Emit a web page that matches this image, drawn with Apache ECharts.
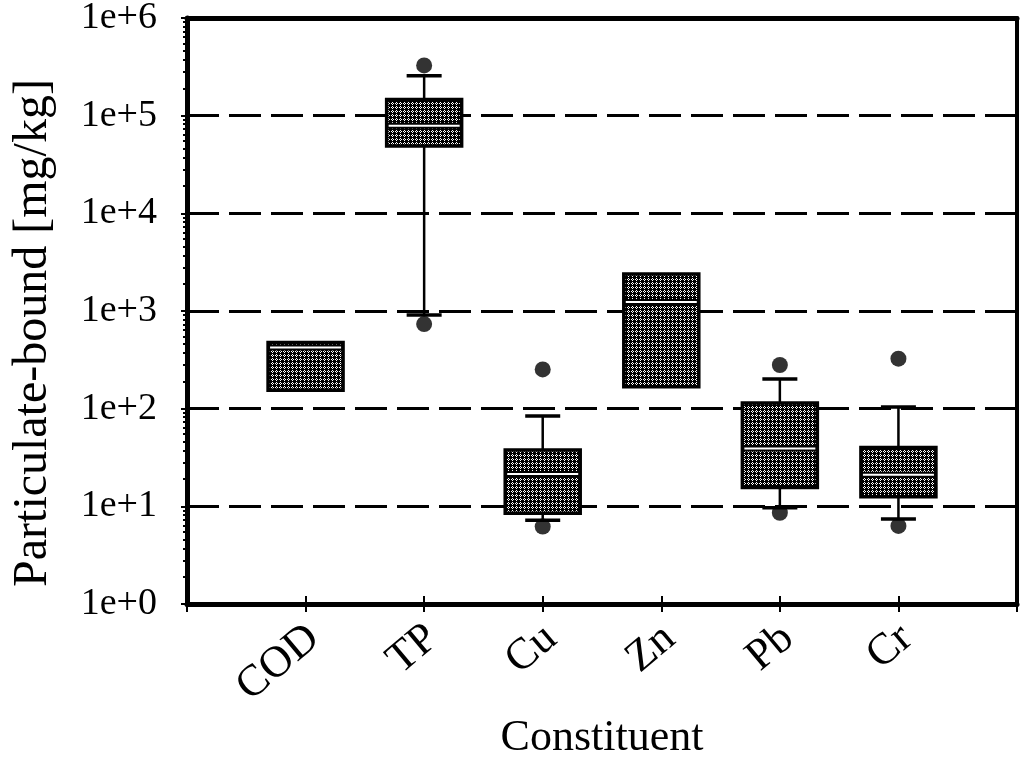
<!DOCTYPE html>
<html><head><meta charset="utf-8">
<script src="https://cdn.jsdelivr.net/npm/echarts@6/dist/echarts.min.js"></script>
<style>html,body{margin:0;padding:0;background:#fff}#c{width:1020px;height:760px}</style>
</head><body><div id="c"></div>
<script>
const categories = ['COD', 'TP', 'Cu', 'Zn', 'Pb', 'Cr'];
const whiskerLow  = [154, 910, 7.2, 168, 9.7, 7.4];
const q1          = [154, 49000, 8.5, 168, 15.6, 12.5];
const median      = [422, 79000, 21.4, 1235, 39.2, 21];
const q3          = [476, 146000, 37.8, 2390, 114, 40];
const whiskerHigh = [476, 257000, 84, 2390, 201, 104];
const outlierCategory = ['TP', 'TP', 'Cu', 'Cu', 'Pb', 'Pb', 'Cr', 'Cr'];
const outlierValue    = [327000, 735, 252, 6.2, 280, 8.6, 325, 6.3];
const yTickLabels = ['1e+0', '1e+1', '1e+2', '1e+3', '1e+4', '1e+5', '1e+6'];

const axisCats = [''].concat(categories, ['']);
const FONT = 'Liberation Serif';

// speckled grey texture (deterministic)
const pc = document.createElement('canvas');
pc.width = 12; pc.height = 12;
const pctx = pc.getContext('2d');
pctx.fillStyle = '#ffffff'; pctx.fillRect(0, 0, 12, 12);
pctx.fillStyle = '#000000';
for (let y = 0; y < 12; y++) {
  for (let x = 0; x < 12; x++) {
    if ((((x * 5 + y * 3) ^ (x * y + y)) % 4) !== 0) pctx.fillRect(x, y, 1, 1);
  }
}
const texture = { image: pc, repeat: 'repeat' };

const boxData = categories.map((c, i) => [i + 1, whiskerLow[i], q1[i], median[i], q3[i], whiskerHigh[i]]);
const outlierData = outlierCategory.map((c, i) => [c, outlierValue[i]]);

function renderBox(params, api) {
  const x = api.value(0);
  const pLow = api.coord([x, api.value(1)]);
  const pQ1 = api.coord([x, api.value(2)]);
  const pMed = api.coord([x, api.value(3)]);
  const pQ3 = api.coord([x, api.value(4)]);
  const pHigh = api.coord([x, api.value(5)]);
  const cx = pQ1[0];
  const bw = 75, cw = 35;
  const ch = [];
  if (pHigh[1] < pQ3[1] - 0.5) {
    ch.push({ type: 'line', shape: { x1: cx, y1: pHigh[1], x2: cx, y2: pQ3[1] }, style: { stroke: '#000', lineWidth: 2.5 } });
    ch.push({ type: 'line', shape: { x1: cx - cw / 2, y1: pHigh[1], x2: cx + cw / 2, y2: pHigh[1] }, style: { stroke: '#000', lineWidth: 3.5 } });
  }
  if (pLow[1] > pQ1[1] + 0.5) {
    ch.push({ type: 'line', shape: { x1: cx, y1: pQ1[1], x2: cx, y2: pLow[1] }, style: { stroke: '#000', lineWidth: 2.5 } });
    ch.push({ type: 'line', shape: { x1: cx - cw / 2, y1: pLow[1], x2: cx + cw / 2, y2: pLow[1] }, style: { stroke: '#000', lineWidth: 3.5 } });
  }
  ch.push({ type: 'rect', shape: { x: cx - bw / 2, y: pQ3[1], width: bw, height: pQ1[1] - pQ3[1] },
            style: { fill: texture, stroke: '#000', lineWidth: 3.5 } });
  ch.push({ type: 'line', shape: { x1: cx - bw / 2, y1: pMed[1], x2: cx + bw / 2, y2: pMed[1] }, style: { stroke: '#000', lineWidth: 6 } });
  ch.push({ type: 'line', shape: { x1: cx - bw / 2 + 2, y1: pMed[1], x2: cx + bw / 2 - 2, y2: pMed[1] }, style: { stroke: '#fff', lineWidth: 2 } });
  return { type: 'group', children: ch };
}

const chart = echarts.init(document.getElementById('c'), null, { renderer: 'canvas' });
chart.setOption({
  animation: false,
  backgroundColor: '#fff',
  grid: { left: 187, right: 3, top: 18, bottom: 156, containLabel: false, outerBoundsMode: 'none' },
  xAxis: [
    {
      type: 'category', data: axisCats, boundaryGap: false, position: 'bottom',
      axisLine: { show: true, lineStyle: { color: '#000', width: 5 } },
      axisTick: { show: true, length: 8, lineStyle: { color: '#000', width: 2 } },
      axisLabel: { rotate: 40, interval: 0, margin: 36, padding: [18, -11, 0, 0],
                   fontFamily: FONT, fontSize: 44, color: '#000' },
      splitLine: { show: false },
      name: 'Constituent', nameLocation: 'middle', nameGap: 86,
      nameTextStyle: { fontFamily: FONT, fontSize: 44, color: '#000' }
    },
    {
      type: 'category', data: axisCats, boundaryGap: false, position: 'bottom',
      axisLine: { show: false },
      axisTick: { show: true, inside: true, length: 8, lineStyle: { color: '#000', width: 2 } },
      axisLabel: { show: false }, splitLine: { show: false }
    },
    {
      type: 'category', data: axisCats, boundaryGap: false, position: 'top',
      axisLine: { show: true, lineStyle: { color: '#000', width: 5 } },
      axisTick: { show: false }, axisLabel: { show: false }, splitLine: { show: false }
    }
  ],
  yAxis: [
    {
      type: 'log', logBase: 10, min: 1, max: 1e6, interval: 1, splitNumber: 6,
      axisLine: { show: true, lineStyle: { color: '#000', width: 5 } },
      axisTick: { show: true, length: 6, lineStyle: { color: '#000', width: 2 } },
      minorTick: { show: true, splitNumber: 10, length: 4, lineStyle: { color: '#000', width: 2 } },
      axisLabel: {
        formatter: v => yTickLabels[Math.round(Math.log10(v))],
        fontFamily: FONT, fontSize: 38, color: '#000', margin: 30
      },
      splitLine: { show: true, lineStyle: { color: '#000', width: 3, type: [32, 10] } },
      name: 'Particulate-bound [mg/kg]', nameLocation: 'middle', nameGap: 130,
      nameTextStyle: { fontFamily: FONT, fontSize: 48, color: '#000', padding: [0, 44, 0, 0] }
    },
    {
      type: 'log', logBase: 10, min: 1, max: 1e6, position: 'right',
      axisLine: { show: true, lineStyle: { color: '#000', width: 4 } },
      axisTick: { show: false }, axisLabel: { show: false }, splitLine: { show: false }
    }
  ],
  series: [
    {
      type: 'custom', xAxisIndex: 0, yAxisIndex: 0,
      renderItem: renderBox,
      encode: { x: 0, y: [1, 2, 3, 4, 5] },
      data: boxData, z: 3
    },
    {
      type: 'scatter', xAxisIndex: 0, yAxisIndex: 0,
      symbol: 'circle', symbolSize: 16,
      itemStyle: { color: '#000' },
      data: outlierData, z: 4
    }
  ]
});
</script>
</body></html>
